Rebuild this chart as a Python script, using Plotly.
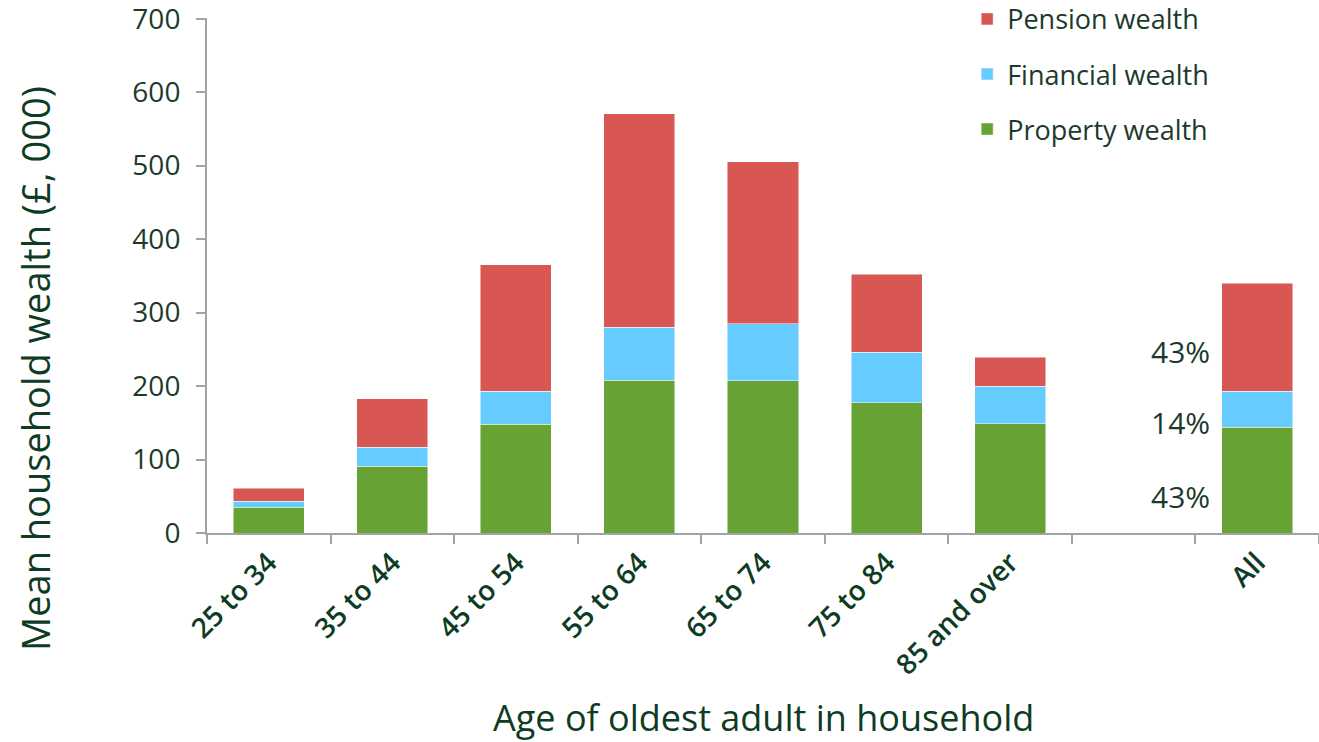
import plotly.graph_objects as go

categories = ["25 to 34", "35 to 44", "45 to 54", "55 to 64", "65 to 74", "75 to 84", "85 and over", " ", "All"]
property_wealth = [35, 91, 148, 208, 207, 177, 149, None, 144]
financial_wealth = [8, 26, 45, 72, 78, 69, 51, None, 49]
pension_wealth = [18, 66, 172, 291, 220, 106, 39, None, 147]
share_labels = ["43%", "14%", "43%"]
share_y = [247, 151, 50]

FONT = "Open Sans"
DARK = "#0d3b24"
TICK = "#1c3a2c"

fig = go.Figure()
for name, vals, col, rank in [
    ("Property wealth", property_wealth, "#66a334", 3),
    ("Financial wealth", financial_wealth, "#66ccff", 2),
    ("Pension wealth", pension_wealth, "#d95753", 1),
]:
    fig.add_trace(go.Bar(
        x=categories, y=vals, name=name, legendgroup=name, legendrank=rank,
        marker=dict(color=col, line=dict(color="rgba(255,255,255,0.6)", width=0.8)),
        width=0.575,
    ))

for lab, yv in zip(share_labels, share_y):
    fig.add_annotation(x=7.63, y=yv, text=lab, showarrow=False, xanchor="right", yanchor="middle",
                       font=dict(family=FONT, size=30, color=TICK))

fig.add_annotation(xref="paper", yref="paper", x=0, y=(533 - 369) / 515, xshift=-172, text="Mean household wealth (£, 000)",
                   textangle=-90, showarrow=False, xanchor="center", yanchor="middle",
                   font=dict(family=FONT, size=38, color=DARK))
fig.add_annotation(xref="paper", yref="paper", x=0.5, y=(533 - 717) / 515, text="Age of oldest adult in household",
                   showarrow=False, xanchor="center", yanchor="middle",
                   font=dict(family=FONT, size=36, color=DARK))

fig.update_layout(
    barmode="stack",
    width=1319, height=742,
    margin=dict(l=207, r=0, t=18, b=209, autoexpand=False),
    plot_bgcolor="white", paper_bgcolor="white",
    font=dict(family=FONT, color=TICK),
    legend=dict(x=0.6836, y=1.045, xanchor="left", yanchor="top", traceorder="grouped",
                tracegroupgap=17, font=dict(family=FONT, size=27, color=TICK), itemwidth=30,
                bgcolor="rgba(0,0,0,0)"),
    xaxis=dict(
        type="category", range=[-0.5, 8.5], tickson="boundaries", ticks="outside", ticklen=9,
        tickcolor="#a0a4a4", tickwidth=2, showline=True, linecolor="#a0a4a4", linewidth=2,
        tickangle=-45, tickfont=dict(family=FONT, size=28, color=DARK, weight=600),
        showgrid=False, automargin=False,
    ),
    yaxis=dict(
        range=[0, 701], tickvals=[0, 100, 200, 300, 400, 500, 600, 700], ticks="outside", ticklen=9,
        tickcolor="#a0a4a4", tickwidth=2, ticklabelstandoff=10, ticklabeloverflow="allow",
        showline=True, linecolor="#a0a4a4", linewidth=2, showgrid=False, zeroline=False,
        tickfont=dict(family=FONT, size=28, color=TICK), automargin=False,
    ),
)

fig.write_html("out.html", config={"displayModeBar": False},
               post_script="document.body.style.margin='0';")
